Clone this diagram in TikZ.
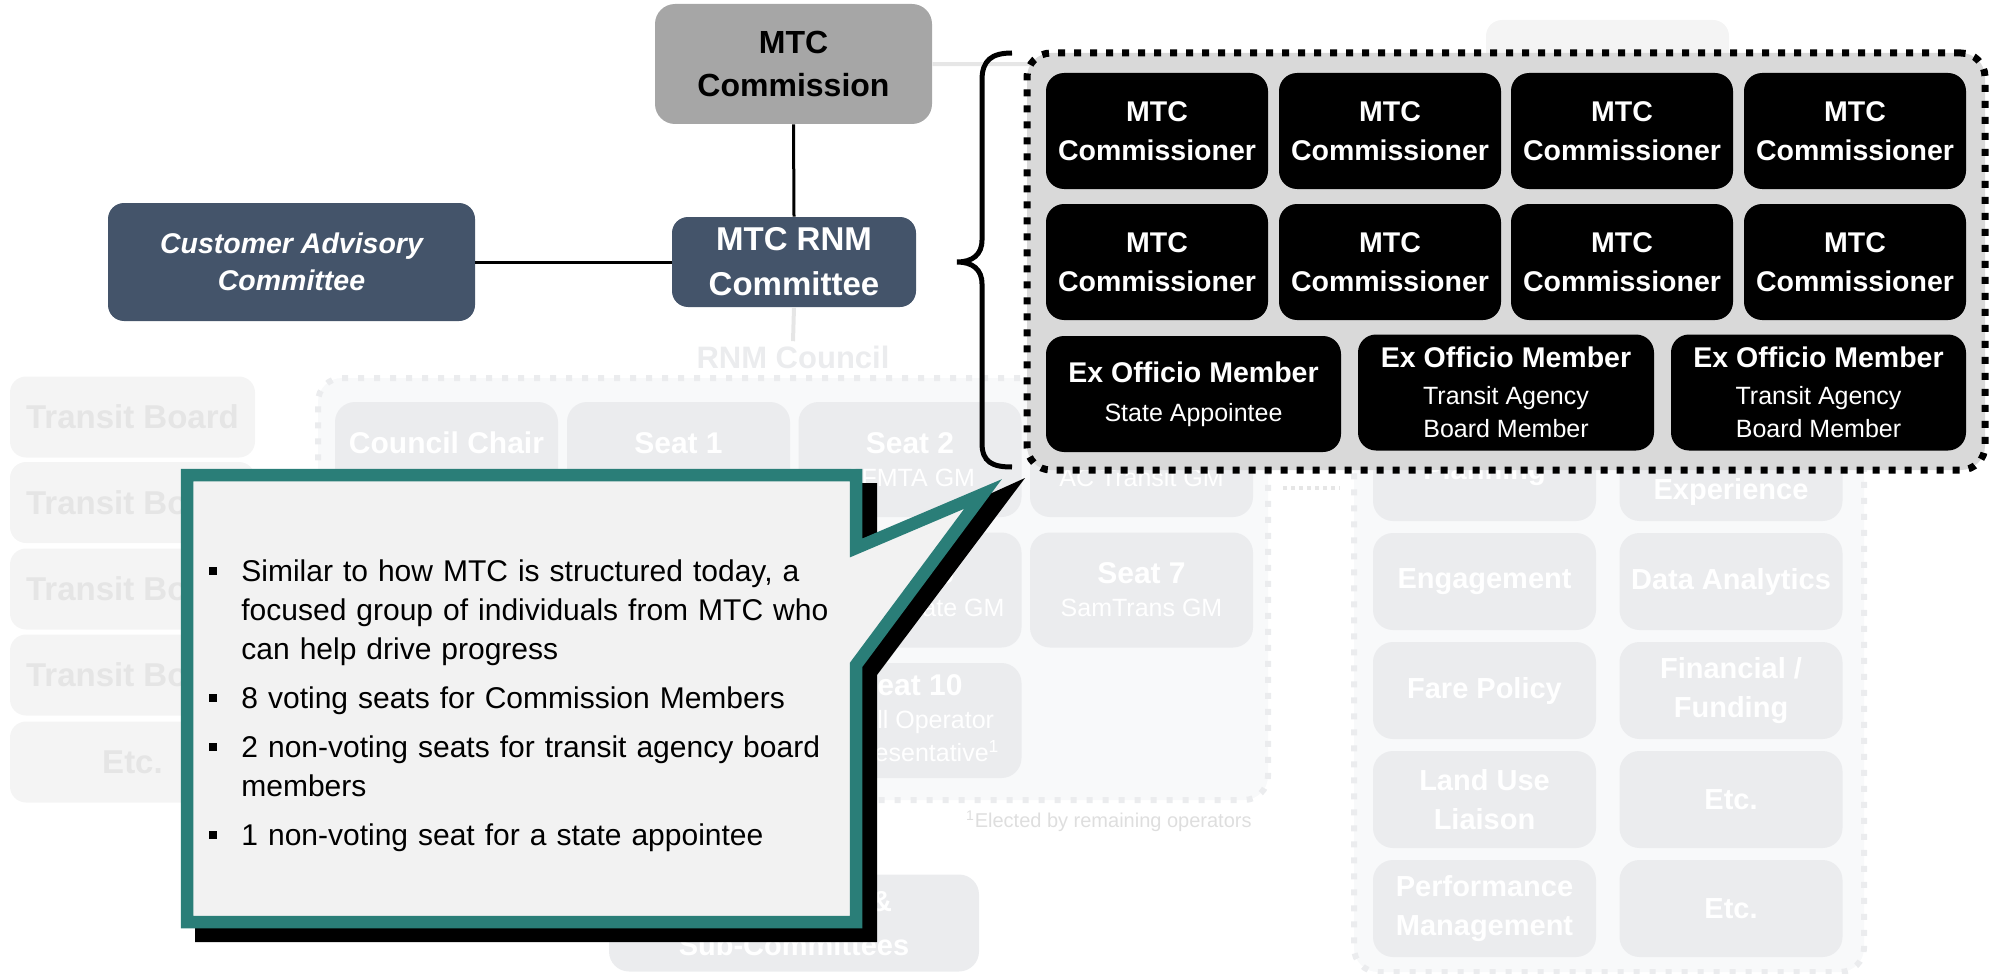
\documentclass[tikz,border=0pt]{standalone}
\usepackage{fontspec}
\setmainfont{Liberation Sans}
\usetikzlibrary{calc}

\definecolor{slate}{HTML}{44546A}
\definecolor{commgray}{HTML}{A6A6A6}
\definecolor{panelgray}{HTML}{D9D9D9}
\definecolor{calloutfill}{HTML}{F2F2F2}
\definecolor{callteal}{HTML}{2A7E78}
\definecolor{fadebox}{HTML}{EBECEE}
\definecolor{fadeback}{HTML}{F8F9FA}
\definecolor{fadeline}{HTML}{E6E6E6}
\definecolor{boardfill}{HTML}{F4F4F4}
\definecolor{boardtext}{HTML}{E5E5E5}
\definecolor{notegray}{HTML}{DEDEDE}

\newcommand\st[1]{{\bfseries\fontsize{15}{16.5}\selectfont #1}}
\newcommand\subln[1]{{\mdseries\fontsize{12.5}{16}\selectfont #1}}
\newcommand\bitem[1]{\par\hangindent=16pt\hangafter=1\noindent\makebox[16pt][l]{\rule[3.4pt]{4pt}{4pt}}#1\par}

\begin{document}
\begin{tikzpicture}[x=0.5pt,y=-0.5pt,
  board/.style={rounded corners=8pt, fill=boardfill, text=boardtext, font=\bfseries\fontsize{16.5}{18}\selectfont, minimum width=122.5pt, minimum height=40.5pt, inner sep=0pt},
  holder/.style={rounded corners=12pt, fill=fadeback, draw=fadebox, line width=3pt, dash pattern=on 3pt off 5pt, inner sep=0pt},
  seat/.style={rounded corners=10pt, fill=fadebox, text=white, font=\fontsize{12.5}{16.5}\selectfont, minimum width=111.5pt, minimum height=57.5pt, align=center, inner sep=0pt},
  cell/.style={rounded corners=10pt, fill=fadebox, text=white, font=\bfseries\fontsize{14.5}{19.5}\selectfont, minimum width=111.5pt, minimum height=48.5pt, align=center, inner sep=0pt},
  org/.style={rounded corners=8pt, fill=slate, text=white, align=center, inner sep=0pt},
  member/.style={rounded corners=9pt, fill=black, text=white, align=center, inner sep=0pt, minimum height=58pt, font=\bfseries\fontsize{14.25}{19.5}\selectfont},
  link/.style={line width=1.5pt},
  fadelink/.style={fadeline, line width=2pt}]
  \useasboundingbox (0,0) rectangle (2003,974);

  %%%%% faded background %%%%%
  \node[board] (board1) at (132.5,417) {Transit Board};
  \node[board] (board2) at (132.5,502.5) {Transit Board};
  \node[board] (board3) at (132.5,589) {Transit Board};
  \node[board] (board4) at (132.5,675) {Transit Board};
  \node[board] (board5) at (132.5,762) {Etc.};

  \node[board, minimum width=121.5pt, minimum height=45pt] (topbox) at (1607.5,65) {};

  \node[holder, minimum width=475pt, minimum height=211pt] (council) at (793,589) {};
  \node[holder, minimum width=255pt, minimum height=283.5pt] (groups) at (1609,688.5) {};

  \node[seat] (chair) at (446.5,459.5) {\st{Council Chair}\\~};
  \node[seat] (seat1) at (678.5,459.5) {\st{Seat 1}\\~};
  \node[seat] (seat2) at (910,459.5) {\st{Seat 2}\\SFMTA GM};
  \node[seat] (seat3) at (1141.5,459.5) {\st{\phantom{Seat 3}}\\AC Transit GM};
  \node[seat] (seat6) at (910,590) {\st{Seat 6}\\Golden Gate GM};
  \node[seat] (seat7) at (1141.5,590) {\st{Seat 7}\\SamTrans GM};
  \node[seat] (seat10) at (910,720.5) {\st{Seat 10}\\Small Operator\\Representative\textsuperscript{1}};

  \node[anchor=east, inner sep=0pt, text=notegray, font=\fontsize{10}{12}\selectfont] (note) at (1252,821) {\textsuperscript{1}Elected by remaining operators};

  \node[cell, minimum width=185pt, font=\bfseries\fontsize{14.5}{22}\selectfont] (tasks) at (794,923) {Task Forces \&\\Sub-Committees};

  \node[cell] (plan) at (1484.5,472.5) {Planning};
  \node[cell] (custx) at (1731,472.5) {Customer\\Experience};
  \node[cell] (engage) at (1484.5,581.5) {Engagement};
  \node[cell] (data) at (1731,581.5) {Data Analytics};
  \node[cell] (fare) at (1484.5,690.5) {Fare Policy};
  \node[cell] (fund) at (1731,690.5) {Financial /\\Funding};
  \node[cell] (land) at (1484.5,799.5) {Land Use\\Liaison};
  \node[cell] (etca) at (1731,799.5) {Etc.};
  \node[cell] (perf) at (1484.5,908.5) {Performance\\Management};
  \node[cell] (etcb) at (1731,908.5) {Etc.};

  \coordinate (dotl) at (1283,488);
  \coordinate (dotr) at (1340,488);
  \draw[fadeline, line width=2pt, dash pattern=on 2pt off 2pt] (dotl) -- (dotr);

  \node[inner sep=2pt, text=fadebox, font=\bfseries\fontsize{15.5}{17}\selectfont] (rnmlbl) at (793,357) {RNM Council};

  %%%%% committees %%%%%
  \node[org, fill=commgray, text=black, rounded corners=10pt, minimum width=138.5pt, minimum height=60pt, font=\bfseries\fontsize{16}{21.5}\selectfont] (comm) at (793.5,64) {MTC\\Commission};
  \node[org, minimum width=122pt, minimum height=45pt, font=\bfseries\fontsize{16.5}{22.5}\selectfont] (rnm) at (794,262) {MTC RNM\\Committee};
  \node[org, minimum width=183.5pt, minimum height=59pt, font=\bfseries\itshape\fontsize{14.25}{18.5}\selectfont] (cac) at (291.5,262) {Customer Advisory\\Committee};

  \draw[fadelink] (comm.east) -- (topbox.west);
  \draw[fadelink] (rnm.south) -- (rnmlbl.north);
  \draw[link] (comm.south) -- (rnm.north);
  \draw[link] (cac.east) -- (rnm.west);

  %%%%% committee members %%%%%
  \node[rounded corners=12pt, fill=panelgray, draw=black, line width=3.5pt, dash pattern=on 3.5pt off 4.5pt, minimum width=479pt, minimum height=208.5pt, inner sep=0pt] (panel) at (1506,261.5) {};

  \foreach \cx [count=\i] in {1157,1390,1622,1855} {
    \node[member, minimum width=111pt] (coma\i) at (\cx,131) {MTC\\Commissioner};
    \node[member, minimum width=111pt] (comb\i) at (\cx,262) {MTC\\Commissioner};
  }
  \node[member, minimum width=147.5pt] (exo1) at (1193.5,394) {Ex Officio Member\\[0pt]\subln{State Appointee}};
  \node[member, minimum width=148pt] (exo2) at (1506,392.5) {Ex Officio Member\\[-1pt]\subln{Transit Agency}\\[-3pt]\subln{Board Member}};
  \node[member, minimum width=147.5pt] (exo3) at (1818.5,392.5) {Ex Officio Member\\[-1pt]\subln{Transit Agency}\\[-3pt]\subln{Board Member}};

  % brace
  \draw[line width=2.5pt] (1012,53) .. controls (992,53) and (982,60) .. (982,80) -- (982,240)
    .. controls (982,255) and (972,262) .. (957,262) .. controls (972,262) and (982,269) .. (982,284)
    -- (982,443) .. controls (982,462) and (992,467) .. (1012,467);

  %%%%% callout %%%%%
  \fill[black] (195,483) -- (877,483) -- (877,545) -- (1025,478) -- (877,675) -- (877,942) -- (195,942) -- cycle;
  \draw[callteal, fill=calloutfill, line width=6.25pt] (187,475) -- (856,475) -- (856,548) -- (983,494) -- (856,665) -- (856,922) -- (187,922) -- cycle;

  \node[anchor=west, text width=330pt, align=left, inner sep=0pt, font=\fontsize{15}{19.5}\selectfont] (bullets) at (209,692) {\setlength{\parskip}{5pt}%
    \bitem{Similar to how MTC is structured today, a\newline focused group of individuals from MTC who\newline can help drive progress}
    \bitem{8 voting seats for Commission Members}
    \bitem{2 non-voting seats for transit agency board\newline members}
    \bitem{1 non-voting seat for a state appointee}};
\end{tikzpicture}
\end{document}
